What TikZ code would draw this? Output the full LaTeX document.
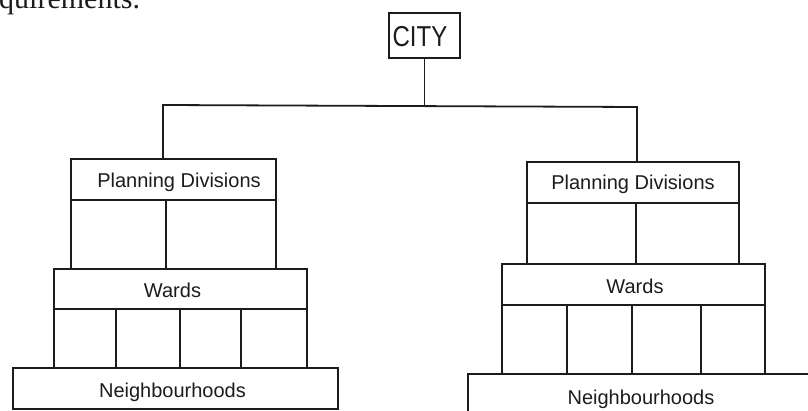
\documentclass[tikz,border=0pt]{standalone}
\usepackage{fontspec}
\usepackage{graphicx}
\setmainfont{Liberation Sans}
\newfontfamily\bodyserif{Liberation Serif}
\definecolor{ink}{HTML}{1C1C1C}
\tikzset{
  box/.style={draw=ink, line width=1.8pt, rectangle, inner sep=0pt, outer sep=0pt},
  link/.style={draw=ink, line width=1.8pt, line join=miter},
  lbl/.style={anchor=base, inner sep=0pt, text=ink, font=\fontsize{20}{24}\selectfont},
}
\begin{document}
\begin{tikzpicture}[x=1pt, y=-1pt]
\useasboundingbox (0,0) rectangle (808,411);
\clip (0,0) rectangle (808,411);
\fill[white] (0,0) rectangle (808,411);

% tail of the preceding text line
\node[anchor=base west, inner sep=0pt, text=ink, font=\bodyserif\fontsize{30}{36}\selectfont] (prev) at (-1,9) {quirements.};

% top of the hierarchy
\node[box, minimum width=71pt, minimum height=45pt] (city) at (424.5,35.5) {};
\node[lbl, font=\fontsize{24}{28}\selectfont] (cityt) at (420,47) {\scalebox{1}[1.2]{CITY}};

% left branch
\node[box, minimum width=205pt, minimum height=41pt] (pdL) at (173.5,179.5) {};
\node[lbl] (pdLt) at (179,188) {Planning Divisions};
\node[box, minimum width=253pt, minimum height=40pt] (wdL) at (180.5,289) {};
\node[lbl] (wdLt) at (172.5,298) {Wards};
\node[box, minimum width=325pt, minimum height=41pt] (nbL) at (175.5,388.5) {};
\node[lbl] (nbLt) at (172.5,397) {Neighbourhoods};

% right branch
\node[box, minimum width=212pt, minimum height=41pt] (pdR) at (633,182.5) {};
\node[lbl] (pdRt) at (633,190) {Planning Divisions};
\node[box, minimum width=263pt, minimum height=41pt] (wdR) at (633.5,284.5) {};
\node[lbl] (wdRt) at (635,294) {Wards};
\node[box, minimum width=380pt, minimum height=42pt] (nbR) at (658,395) {};
\node[lbl] (nbRt) at (641,404) {Neighbourhoods};

% branching from the city
\coordinate (busL) at (163,105);
\coordinate (busR) at (637,107);
\draw[link] (city.south) -- (city.south |- busL);
\draw[link] (busL |- pdL.north) -- (busL) -- (busR) -- (busR |- pdR.north);

% planning divisions down to wards
\foreach \dx in {0,95,205} {
  \path (pdL.south west) ++(\dx,0) coordinate (t);
  \draw[link] (t) -- (t |- wdL.north);
}
\foreach \dx in {0,109,212} {
  \path (pdR.south west) ++(\dx,0) coordinate (t);
  \draw[link] (t) -- (t |- wdR.north);
}

% wards down to neighbourhoods
\foreach \dx in {0,62,126,187,253} {
  \path (wdL.south west) ++(\dx,0) coordinate (t);
  \draw[link] (t) -- (t |- nbL.north);
}
\foreach \dx in {0,65,130,199,263} {
  \path (wdR.south west) ++(\dx,0) coordinate (t);
  \draw[link] (t) -- (t |- nbR.north);
}
\end{tikzpicture}
\end{document}
